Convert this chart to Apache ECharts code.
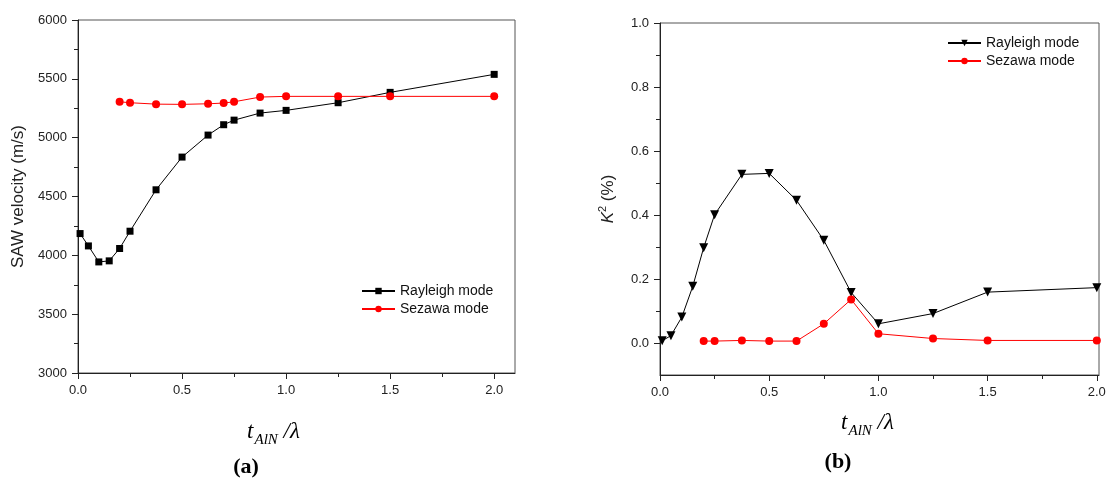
<!DOCTYPE html>
<html>
<head>
<meta charset="utf-8">
<script src="https://cdn.jsdelivr.net/npm/echarts@6/dist/echarts.min.js"></script>
<style>
html, body { margin: 0; padding: 0; background: #fff; }
.panel { position: absolute; top: 0; width: 555px; height: 478px; }
#chartA { left: 0; }
#chartB { left: 555px; }
</style>
</head>
<body>
<div id="chartA" class="panel"></div>
<div id="chartB" class="panel"></div>
<script>
// (a) SAW velocity vs t/λ
const tRayleighA = [0.01, 0.05, 0.1, 0.15, 0.2, 0.25, 0.375, 0.5, 0.625, 0.7, 0.75, 0.875, 1.0, 1.25, 1.5, 2.0]
const velRayleigh = [4185, 4080, 3944, 3953, 4058, 4205, 4557, 4835, 5022, 5110, 5149, 5209, 5232, 5297, 5385, 5538]
const tSezawaA = [0.2, 0.25, 0.375, 0.5, 0.625, 0.7, 0.75, 0.875, 1.0, 1.25, 1.5, 2.0]
const velSezawa = [5305, 5297, 5285, 5283, 5288, 5294, 5305, 5345, 5351, 5351, 5351, 5351]

// (b) K2 vs t/λ
const tRayleighB = [0.01, 0.05, 0.1, 0.15, 0.2, 0.25, 0.375, 0.5, 0.625, 0.75, 0.875, 1.0, 1.25, 1.5, 2.0]
const k2Rayleigh = [0.007, 0.023, 0.081, 0.177, 0.298, 0.401, 0.527, 0.530, 0.446, 0.321, 0.158, 0.060, 0.092, 0.159, 0.173]
const tSezawaB = [0.2, 0.25, 0.375, 0.5, 0.625, 0.75, 0.875, 1.0, 1.25, 1.5, 2.0]
const k2Sezawa = [0.006, 0.006, 0.008, 0.006, 0.006, 0.060, 0.136, 0.029, 0.014, 0.008, 0.008]

// tick labels
const xTicks = [0, 0.5, 1.0, 1.5, 2.0]
const xMinorTicks = [0.25, 0.75, 1.25, 1.75]
const velTicks = [3000, 3500, 4000, 4500, 5000, 5500, 6000]
const velMinorTicks = [3250, 3750, 4250, 4750, 5250, 5750]
const k2Ticks = [0, 0.2, 0.4, 0.6, 0.8, 1.0]
const k2MinorTicks = [0.1, 0.3, 0.5, 0.7, 0.9]

const sans = 'Arial, "Liberation Sans", sans-serif'
const serif = '"Liberation Serif", "DejaVu Serif", serif'
const ink = '#222'

const zip = (xs, ys) => xs.map((x, i) => [x, ys[i]])

// main axis: line, long ticks, labels
const mainAxis = (min, max, ticks, position, formatter, extra) => ({
  type: 'value',
  min: min,
  max: max,
  position: position,
  axisLine: { show: true, onZero: false, lineStyle: { color: ink, width: 1 } },
  axisTick: { show: true, length: 6, customValues: ticks, lineStyle: { color: ink } },
  axisLabel: { customValues: ticks, formatter: formatter, margin: 11, color: ink, fontSize: 13, fontFamily: sans },
  splitLine: { show: false },
  ...extra
})

// overlay axis for the short minor ticks
const minorAxis = (min, max, ticks, position) => ({
  type: 'value',
  min: min,
  max: max,
  position: position,
  axisLine: { show: false, onZero: false },
  axisTick: { show: true, length: 4, customValues: ticks, lineStyle: { color: ink } },
  axisLabel: { show: false },
  splitLine: { show: false }
})

const xName = '{t|t}{s|AlN}{t| /λ}'
const xNameRich = {
  t: { fontSize: 23, fontStyle: 'italic', fontFamily: serif, color: '#000', verticalAlign: 'top', lineHeight: 26 },
  s: { fontSize: 15, fontStyle: 'italic', fontFamily: serif, color: '#000', verticalAlign: 'top', lineHeight: 15, padding: [13, 0, 0, 1] }
}

const legendStyle = {
  orient: 'vertical',
  itemWidth: 33,
  itemHeight: 8,
  itemGap: 4,
  padding: 0,
  textStyle: { fontSize: 14, color: '#111', fontFamily: sans }
}

const fmt1 = v => v.toFixed(1)

const chartA = echarts.init(document.getElementById('chartA'))
const chartB = echarts.init(document.getElementById('chartB'))

chartA.setOption({
  animation: false,
  title: {
    text: '(a)', left: 246, top: 456, textAlign: 'center', padding: 0,
    textStyle: { fontFamily: serif, fontWeight: 'bold', fontSize: 22, color: '#000' }
  },
  grid: { left: 78, top: 20, width: 437, height: 353, show: true, borderColor: '#555', borderWidth: 1, outerBoundsMode: 'none' },
  legend: { ...legendStyle, left: 361, top: 284, data: ['Rayleigh mode', 'Sezawa mode'] },
  xAxis: [
    mainAxis(0, 2.1, xTicks, 'bottom', fmt1, {
      name: xName, nameLocation: 'middle', nameGap: 47,
      nameTextStyle: { rich: xNameRich, padding: [0, 46, 0, 0] }
    }),
    minorAxis(0, 2.1, xMinorTicks, 'bottom')
  ],
  yAxis: [
    mainAxis(3000, 6000, velTicks, 'left', v => String(v), {
      name: 'SAW velocity (m/s)', nameLocation: 'middle', nameGap: 44,
      nameTextStyle: { fontSize: 17, fontFamily: sans, color: ink }
    }),
    minorAxis(3000, 6000, velMinorTicks, 'left')
  ],
  series: [
    {
      name: 'Rayleigh mode', type: 'line', data: zip(tRayleighA, velRayleigh),
      symbol: 'rect', symbolSize: 7,
      itemStyle: { color: '#000' }, lineStyle: { color: '#000', width: 1 }
    },
    {
      name: 'Sezawa mode', type: 'line', data: zip(tSezawaA, velSezawa),
      symbol: 'circle', symbolSize: 8,
      itemStyle: { color: '#ff0000' }, lineStyle: { color: '#ff0000', width: 1 }
    }
  ]
})

chartB.setOption({
  animation: false,
  title: {
    text: '(b)', left: 283, top: 451, textAlign: 'center', padding: 0,
    textStyle: { fontFamily: serif, fontWeight: 'bold', fontSize: 22, color: '#000' }
  },
  grid: { left: 105, top: 23, width: 439, height: 352, show: true, borderColor: '#555', borderWidth: 1, outerBoundsMode: 'none' },
  legend: { ...legendStyle, left: 392, top: 36, data: ['Rayleigh mode', 'Sezawa mode'] },
  xAxis: [
    mainAxis(0, 2.01, xTicks, 'bottom', fmt1, {
      name: xName, nameLocation: 'middle', nameGap: 36,
      nameTextStyle: { rich: xNameRich, padding: [0, 24, 0, 0] }
    }),
    minorAxis(0, 2.01, xMinorTicks, 'bottom')
  ],
  yAxis: [
    mainAxis(-0.1, 1.0, k2Ticks, 'left', fmt1, {
      name: '{k|K}{s|2}{n| (%)}', nameLocation: 'middle', nameGap: 43,
      nameTextStyle: {
        rich: {
          k: { fontSize: 17, fontStyle: 'italic', fontFamily: sans, color: ink, verticalAlign: 'bottom', lineHeight: 20 },
          s: { fontSize: 11, fontFamily: sans, color: ink, verticalAlign: 'top', lineHeight: 11 },
          n: { fontSize: 17, fontFamily: sans, color: ink, verticalAlign: 'bottom', lineHeight: 20 }
        }
      }
    }),
    minorAxis(-0.1, 1.0, k2MinorTicks, 'left')
  ],
  series: [
    {
      name: 'Rayleigh mode', type: 'line', data: zip(tRayleighB, k2Rayleigh),
      symbol: 'triangle', symbolRotate: 180, symbolSize: 9,
      itemStyle: { color: '#000' }, lineStyle: { color: '#000', width: 1 }
    },
    {
      name: 'Sezawa mode', type: 'line', data: zip(tSezawaB, k2Sezawa),
      symbol: 'circle', symbolSize: 8,
      itemStyle: { color: '#ff0000' }, lineStyle: { color: '#ff0000', width: 1 }
    }
  ]
})
</script>
</body>
</html>
